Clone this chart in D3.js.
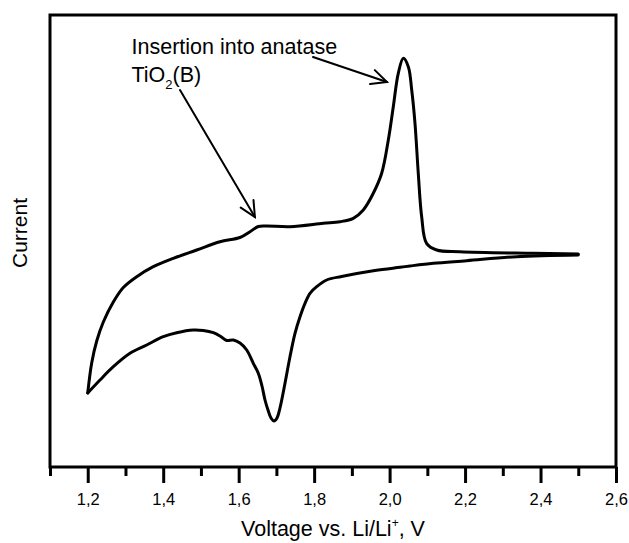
<!DOCTYPE html>
<html>
<head>
<meta charset="utf-8">
<script src="https://cdn.jsdelivr.net/npm/d3@7"></script>
<style>
  html, body { margin: 0; padding: 0; background: #fff; }
  svg { display: block; }
  text { font-family: Arial, "Liberation Sans", sans-serif; fill: #000; }
</style>
</head>
<body>
<svg id="chart" width="629" height="543"></svg>
<script>
// Cyclic voltammogram of a TiO2 anatase / TiO2(B) electrode (current in arbitrary units)

// Branch from 1.2 V up to 2.5 V (carries the sharp peak near 2.04 V)
const upperVoltage = [1.200, 1.2105, 1.2238, 1.2413, 1.2678, 1.2943, 1.3298, 1.3738, 1.4268, 1.4888,
  1.5505, 1.6035, 1.630, 1.652, 1.6743, 1.736, 1.8243, 1.8686, 1.9038, 1.9303, 1.9568, 1.979,
  1.9966, 2.0098, 2.023, 2.0363, 2.0496, 2.0586, 2.0673, 2.076, 2.085, 2.098,
  2.1248, 2.1866, 2.3808, 2.500];
const upperCurrent = [-1.39, -1.09, -0.87, -0.68, -0.48, -0.335, -0.227, -0.127, -0.043, 0.04,
  0.123, 0.165, 0.223, 0.275, 0.28, 0.273, 0.307, 0.323, 0.357, 0.44, 0.607, 0.807,
  1.14, 1.473, 1.807, 1.957, 1.873, 1.64, 1.307, 0.807, 0.373, 0.107,
  0.04, 0.023, 0.007, 0.0];

// Branch from 2.5 V back down to 1.2 V (carries the trough near 1.69 V)
const lowerVoltage = [2.500, 2.3368, 2.2043, 2.1158, 2.054, 2.0276, 1.961, 1.8725, 1.8333, 1.8068,
  1.789, 1.7758, 1.7626, 1.7493, 1.736, 1.7228, 1.7095, 1.7016, 1.6936, 1.6857, 1.6777, 1.6698,
  1.6618, 1.652, 1.6388, 1.6213, 1.6035, 1.5858, 1.5683, 1.5505, 1.5328, 1.5063, 1.4798,
  1.4358, 1.4003, 1.3563, 1.312, 1.2678, 1.2325, 1.200];
const lowerCurrent = [-0.01, -0.027, -0.067, -0.093, -0.12, -0.133, -0.165, -0.225, -0.26, -0.327,
  -0.393, -0.493, -0.627, -0.793, -1.027, -1.293, -1.54, -1.64, -1.67, -1.64, -1.56, -1.46,
  -1.32, -1.193, -1.093, -0.96, -0.89, -0.86, -0.865, -0.82, -0.787, -0.765, -0.76,
  -0.787, -0.827, -0.91, -0.993, -1.127, -1.26, -1.39];

// Axis ticks
const majorTicks = [1.2, 1.4, 1.6, 1.8, 2.0, 2.2, 2.4, 2.6];
const minorTicks = [1.1, 1.3, 1.5, 1.7, 1.9, 2.1, 2.3, 2.5];
const tickLabels = ["1,2", "1,4", "1,6", "1,8", "2,0", "2,2", "2,4", "2,6"];

// Annotations: text anchors and arrows [fromV, fromI, toV, toI]
const noteLines = ["Insertion into anatase", "TiO2(B)"];
const noteAnchor = [1.316, 2.0];
const arrows = [
  [1.797, 1.97, 1.993, 1.72],
  [1.4445, 1.64, 1.643, 0.37]
];

const svg = d3.select("#chart");
const plot = { left: 50, right: 616, top: 15, bottom: 467 };

const x = d3.scaleLinear().domain([1.1, 2.6]).range([plot.left, plot.right]);
const y = d3.scaleLinear().domain([-2.13, 2.39]).range([plot.bottom, plot.top]);

// Frame
svg.append("rect")
  .attr("x", plot.left).attr("y", plot.top)
  .attr("width", plot.right - plot.left).attr("height", plot.bottom - plot.top)
  .attr("fill", "none").attr("stroke", "#000").attr("stroke-width", 3);

// Bottom axis: major ticks with labels, minor ticks without
const axisMajor = d3.axisBottom(x).tickValues(majorTicks).tickSize(16)
  .tickFormat((d, i) => tickLabels[i]).tickPadding(10);
const gMajor = svg.append("g").attr("transform", `translate(0,${plot.bottom})`).call(axisMajor);
gMajor.select(".domain").remove();
gMajor.selectAll(".tick line").attr("stroke", "#000").attr("stroke-width", 3);
gMajor.selectAll(".tick text").attr("font-size", 16.5)
  .attr("font-family", "Arial, 'Liberation Sans', sans-serif").attr("fill", "#000");

const axisMinor = d3.axisBottom(x).tickValues(minorTicks).tickSize(9).tickFormat("");
const gMinor = svg.append("g").attr("transform", `translate(0,${plot.bottom})`).call(axisMinor);
gMinor.select(".domain").remove();
gMinor.selectAll(".tick line").attr("stroke", "#000").attr("stroke-width", 3);

// Curve
const line = d3.line()
  .x(d => x(d[0])).y(d => y(d[1]))
  .curve(d3.curveCatmullRom.alpha(0.5));

const upper = upperVoltage.map((v, i) => [v, upperCurrent[i]]);
const lower = lowerVoltage.map((v, i) => [v, lowerCurrent[i]]);

[upper, lower].forEach(branch => {
  svg.append("path")
    .attr("d", line(branch))
    .attr("fill", "none")
    .attr("stroke", "#000")
    .attr("stroke-width", 3)
    .attr("stroke-linejoin", "round")
    .attr("stroke-linecap", "round");
});

// Annotation text
const note = svg.append("g").attr("font-size", 21.5);
note.append("text")
  .attr("x", x(noteAnchor[0])).attr("y", y(noteAnchor[1]))
  .text(noteLines[0]);
const t2 = note.append("text")
  .attr("x", x(noteAnchor[0])).attr("y", y(noteAnchor[1]) + 28);
t2.append("tspan").text("TiO");
t2.append("tspan").attr("font-size", 13).attr("dy", 7).text("2");
t2.append("tspan").attr("dy", -7).text("(B)");

// Arrows with open heads
arrows.forEach(a => {
  const x1 = x(a[0]), y1 = y(a[1]), x2 = x(a[2]), y2 = y(a[3]);
  const ang = Math.atan2(y2 - y1, x2 - x1);
  const len = 17, spread = 0.45;
  const g = svg.append("g").attr("stroke", "#000").attr("stroke-width", 2).attr("fill", "none")
    .attr("stroke-linecap", "round");
  g.append("line").attr("x1", x1).attr("y1", y1).attr("x2", x2).attr("y2", y2);
  g.append("path").attr("d",
    `M${x2 - len * Math.cos(ang - spread)},${y2 - len * Math.sin(ang - spread)}` +
    `L${x2},${y2}` +
    `L${x2 - len * Math.cos(ang + spread)},${y2 - len * Math.sin(ang + spread)}`);
});

// Axis titles
const xt = svg.append("text")
  .attr("x", (plot.left + plot.right) / 2).attr("y", 536)
  .attr("text-anchor", "middle").attr("font-size", 21.5);
xt.append("tspan").text("Voltage vs. Li/Li");
xt.append("tspan").attr("font-size", 12).attr("dy", -9).text("+");
xt.append("tspan").attr("dy", 9).text(", V");

svg.append("text")
  .attr("transform", "translate(27,233) rotate(-90)")
  .attr("text-anchor", "middle").attr("font-size", 21)
  .text("Current");
</script>
</body>
</html>
